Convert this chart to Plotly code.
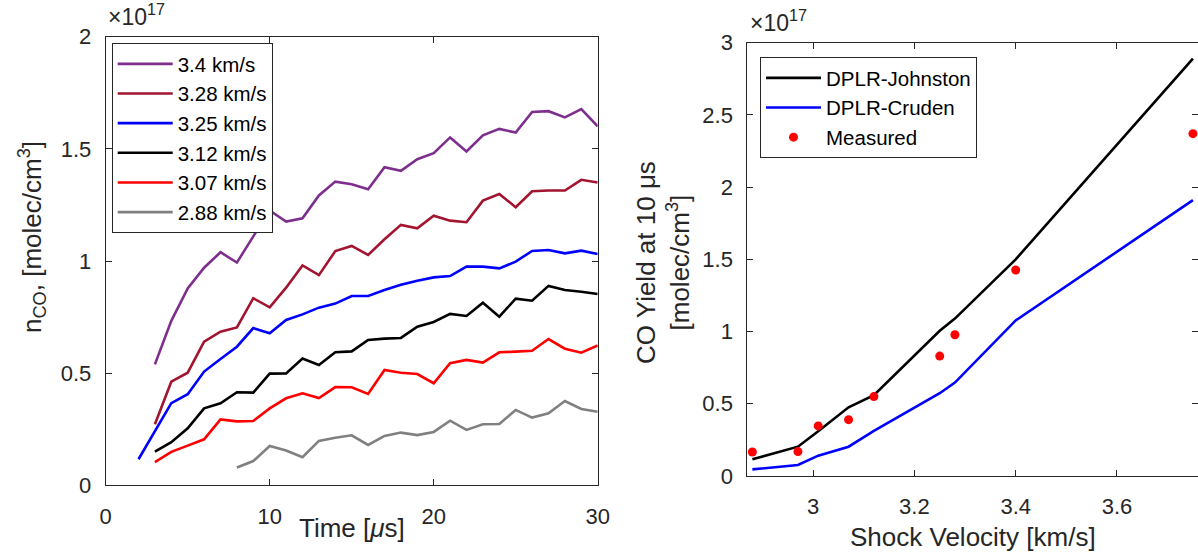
import plotly.graph_objects as go

W, H = 1198, 558

# ---------------- data (left panel, units of 1e17 molec/cm^3) ----------------
t_340 = list(range(3, 31))
n_340 = [0.539, 0.733, 0.878, 0.970, 1.039, 0.993, 1.11, 1.225, 1.176, 1.19, 1.292, 1.354,
         1.342, 1.32, 1.418, 1.402, 1.454, 1.481, 1.551, 1.488, 1.56, 1.589, 1.573, 1.664,
         1.668, 1.64, 1.677, 1.60]
t_328 = list(range(3, 31))
n_328 = [0.272, 0.462, 0.502, 0.64, 0.685, 0.704, 0.834, 0.793, 0.881, 0.980, 0.937, 1.044,
         1.067, 1.027, 1.097, 1.161, 1.146, 1.202, 1.18, 1.173, 1.269, 1.299, 1.24, 1.311,
         1.314, 1.314, 1.362, 1.35]
t_325 = list(range(2, 31))
n_325 = [0.116, 0.24, 0.366, 0.406, 0.507, 0.563, 0.618, 0.701, 0.678, 0.737, 0.762, 0.792,
         0.81, 0.844, 0.844, 0.871, 0.894, 0.912, 0.927, 0.933, 0.975, 0.975, 0.967, 0.997,
         1.045, 1.049, 1.034, 1.046, 1.031]
t_312 = list(range(3, 31))
n_312 = [0.15, 0.192, 0.254, 0.343, 0.366, 0.415, 0.413, 0.498, 0.499, 0.565, 0.536, 0.593,
         0.597, 0.648, 0.654, 0.657, 0.707, 0.728, 0.764, 0.755, 0.814, 0.752, 0.832, 0.823,
         0.889, 0.871, 0.863, 0.853]
t_307 = list(range(3, 31))
n_307 = [0.103, 0.149, 0.177, 0.205, 0.294, 0.285, 0.287, 0.343, 0.388, 0.41, 0.389, 0.438,
         0.437, 0.407, 0.514, 0.502, 0.496, 0.455, 0.544, 0.559, 0.547, 0.593, 0.596, 0.6,
         0.652, 0.609, 0.591, 0.623]
t_288 = list(range(8, 31))
n_288 = [0.079, 0.108, 0.175, 0.155, 0.125, 0.198, 0.212, 0.223, 0.18, 0.22, 0.235, 0.224,
         0.238, 0.288, 0.247, 0.272, 0.273, 0.336, 0.302, 0.321, 0.376, 0.34, 0.328]

left_names = ["3.4 km/s", "3.28 km/s", "3.25 km/s", "3.12 km/s", "3.07 km/s", "2.88 km/s"]
left_colors = ["#7E2F8E", "#A2142F", "#0000FF", "#000000", "#FF0000", "#808080"]
left_t = [t_340, t_328, t_325, t_312, t_307, t_288]
left_n = [n_340, n_328, n_325, n_312, n_307, n_288]

# ---------------- data (right panel) ----------------
v_model = [2.88, 2.97, 3.01, 3.07, 3.12, 3.25, 3.28, 3.40, 3.75]
y_johnston = [0.116, 0.203, 0.31, 0.476, 0.56, 1.005, 1.09, 1.50, 2.89]
y_cruden = [0.046, 0.076, 0.141, 0.203, 0.312, 0.573, 0.647, 1.077, 1.91]
v_meas = [2.88, 2.97, 3.01, 3.07, 3.12, 3.25, 3.28, 3.40, 3.75]
y_meas = [0.166, 0.169, 0.347, 0.39, 0.55, 0.83, 0.978, 1.426, 2.37]

left_xticks = [0, 10, 20, 30]
left_yticks = [0, 0.5, 1, 1.5, 2]
left_yticklabels = ["0", "0.5", "1", "1.5", "2"]
right_xticks = [3.0, 3.2, 3.4, 3.6]
right_xticklabels = ["3", "3.2", "3.4", "3.6"]
right_yticks = [0, 0.5, 1, 1.5, 2, 2.5, 3]
right_yticklabels = ["0", "0.5", "1", "1.5", "2", "2.5", "3"]

FONT = "Liberation Sans, Arial, Helvetica, sans-serif"
TXT = "#262626"
TICKF = 22
TITLEF = 26
LEGF = 20.5

fig = go.Figure()
for name, col, tt, nn in zip(left_names, left_colors, left_t, left_n):
    fig.add_trace(go.Scatter(x=tt, y=nn, mode="lines", name=name,
                             line=dict(color=col, width=2.6),
                             xaxis="x", yaxis="y", legend="legend"))

fig.add_trace(go.Scatter(x=v_model, y=y_johnston, mode="lines", name="DPLR-Johnston",
                         line=dict(color="#000000", width=2.6), xaxis="x2", yaxis="y2",
                         legend="legend2"))
fig.add_trace(go.Scatter(x=v_model, y=y_cruden, mode="lines", name="DPLR-Cruden",
                         line=dict(color="#0000FF", width=2.6), xaxis="x2", yaxis="y2",
                         legend="legend2"))
fig.add_trace(go.Scatter(x=v_meas, y=y_meas, mode="markers", name="Measured",
                         marker=dict(color="#FF0000", size=9), xaxis="x2", yaxis="y2",
                         legend="legend2", cliponaxis=False))


def px(x):
    return x / W


def py(y):
    return 1 - y / H


axis_common = dict(showline=True, linecolor=TXT, linewidth=1, mirror="ticks",
                   ticks="inside", ticklen=6, tickcolor=TXT, showgrid=False, zeroline=False,
                   automargin=False,
                   tickfont=dict(family=FONT, size=TICKF, color=TXT))

leg_common = dict(xanchor="left", yanchor="top", bgcolor="white", bordercolor=TXT,
                  borderwidth=1, font=dict(family=FONT, size=LEGF, color="#000000"),
                  tracegroupgap=0, itemwidth=55)

fig.update_layout(
    width=W, height=H,
    margin=dict(l=0, r=0, t=0, b=0, pad=0, autoexpand=False),
    paper_bgcolor="white", plot_bgcolor="white",
    font=dict(family=FONT, color=TXT),
    xaxis=dict(domain=[px(105.7), px(597.7)], range=[0, 30], tickvals=left_xticks,
               anchor="y", ticklabelstandoff=11, **axis_common),
    yaxis=dict(domain=[py(485.3), py(36.7)], range=[0, 2], tickvals=left_yticks,
               ticktext=left_yticklabels, anchor="x", ticklabelstandoff=9, **axis_common),
    xaxis2=dict(domain=[px(747.3), px(1197.5)], range=[2.87, 3.759], tickvals=right_xticks,
                ticktext=right_xticklabels, anchor="y2", ticklabelstandoff=11, **axis_common),
    yaxis2=dict(domain=[py(476), py(42.7)], range=[0, 3], tickvals=right_yticks,
                ticktext=right_yticklabels, anchor="x2", ticklabelstandoff=9, **axis_common),
    legend=dict(x=px(111.7), y=py(43), **leg_common),
    legend2=dict(x=px(760), y=py(57), **leg_common),
    showlegend=True,
)

ann = [
    dict(text="×10<sup>17</sup>", x=px(106), y=py(32), xanchor="left", yanchor="bottom",
         font=dict(size=23)),
    dict(text="×10<sup>17</sup>", x=px(748), y=py(38), xanchor="left", yanchor="bottom",
         font=dict(size=23)),
    dict(text="Time [<i>μ</i>s]", x=px(352), y=py(528), xanchor="center", yanchor="middle",
         font=dict(size=TITLEF)),
    dict(text="Shock Velocity [km/s]", x=px(973), y=py(537), xanchor="center",
         yanchor="middle", font=dict(size=TITLEF)),
    dict(text="n<sub>CO</sub>, [molec/cm<sup>3</sup>]", x=px(32), y=py(237),
         xanchor="center", yanchor="middle", textangle=-90, font=dict(size=TITLEF)),
    dict(text="CO Yield at 10 μs<br>[molec/cm<sup>3</sup>]", x=px(663), y=py(263),
         xanchor="center", yanchor="middle", textangle=-90, font=dict(size=TITLEF)),
]
for a in ann:
    a.update(xref="paper", yref="paper", showarrow=False)
    a["font"].update(family=FONT, color=TXT)
    fig.add_annotation(**a)

fig.write_html(
    "out.html",
    config={"displayModeBar": False},
    post_script="document.body.style.margin='0px';document.body.style.overflow='hidden';",
)
